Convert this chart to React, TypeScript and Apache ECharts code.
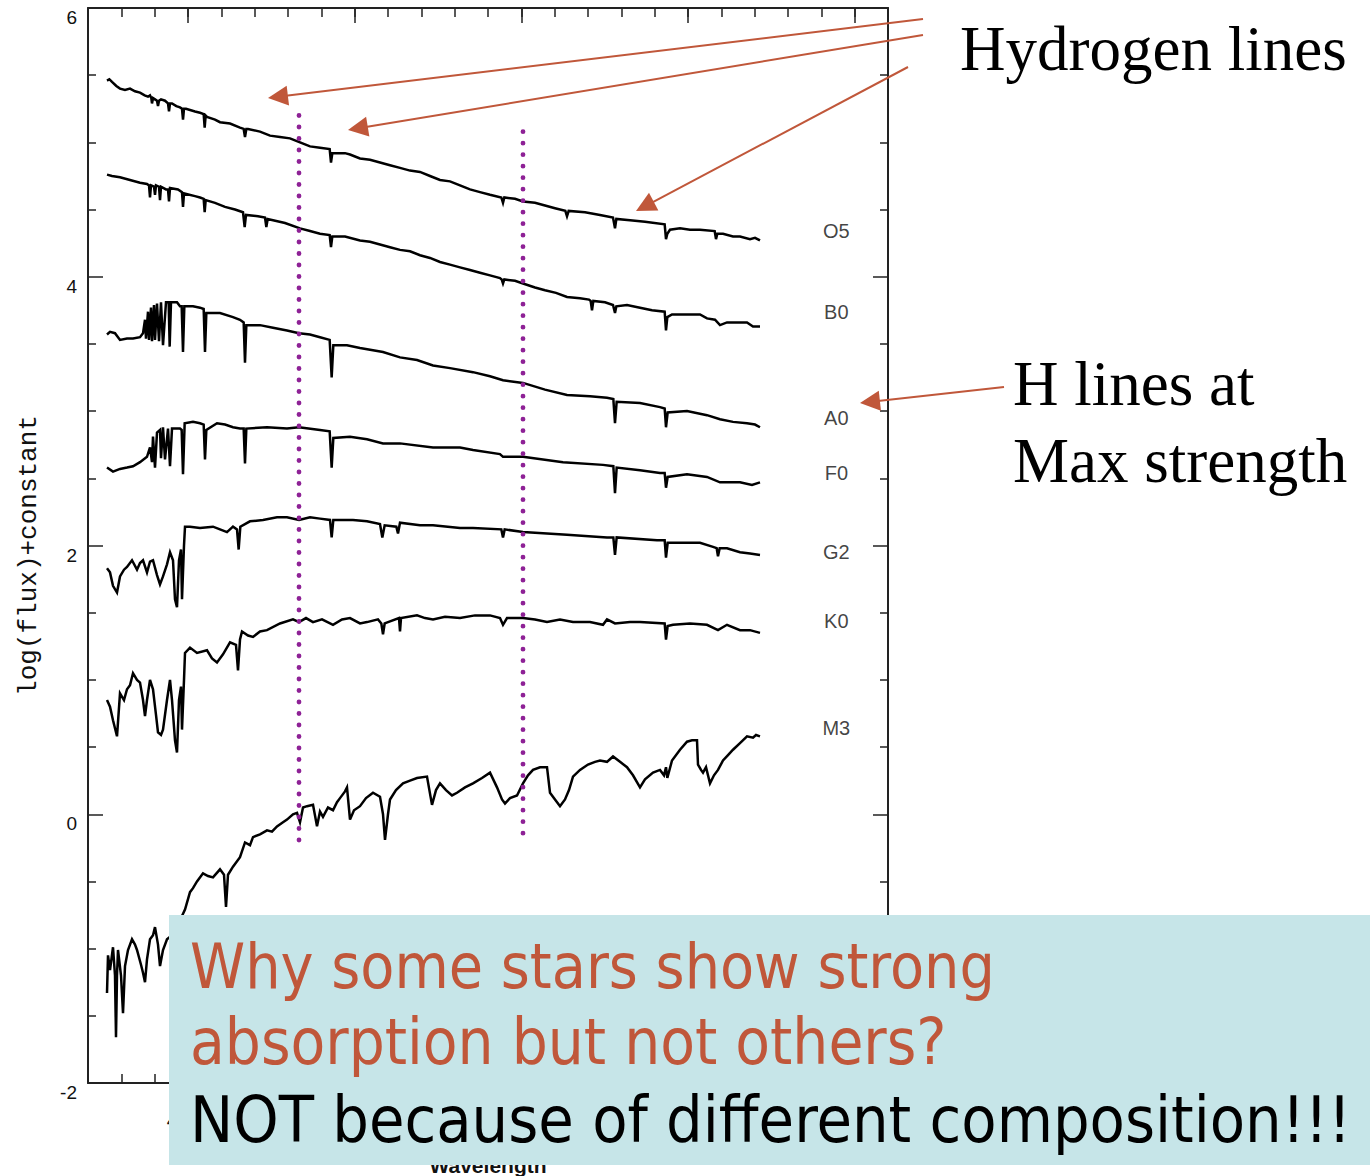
import React, { useEffect, useRef } from 'react';
import * as echarts from 'echarts';

// ---------- axes ----------
const wavelengthMin = 3400;
const wavelengthMax = 8200;
const wavelengthMinorStep = 200;
const majorWavelengthTicks = [4000, 5000, 6000, 7000, 8000];
const visibleWavelengthLabels = [4000]; // the others are hidden behind the text box
const fluxMin = -2;
const fluxMax = 6;
const fluxStep = 2;

// ---------- spectral type labels ----------
const spectralTypes = ['O5', 'B0', 'A0', 'F0', 'G2', 'K0', 'M3'];
const spectralLabelWavelength = 7890;
const spectralLabelLevel = [4.34, 3.74, 2.95, 2.54, 1.95, 1.44, 0.64];

// ---------- spectra [wavelength (Å), log(flux)+constant] ----------
const o5: [number, number][] = [[3514,5.46],[3528,5.47],[3544,5.45],[3570,5.42],[3592,5.40],[3622,5.39],[3652,5.40],[3682,5.38],[3712,5.37],[3740,5.35],[3760,5.34],[3772,5.35],[3780,5.33],[3784,5.29],[3790,5.33],[3802,5.32],[3814,5.31],[3820,5.27],[3826,5.31],[3838,5.32],[3862,5.31],[3880,5.29],[3886,5.23],[3892,5.29],[3904,5.29],[3930,5.27],[3952,5.26],[3964,5.25],[3970,5.17],[3976,5.25],[3988,5.25],[4042,5.23],[4072,5.22],[4094,5.21],[4100,5.11],[4106,5.20],[4114,5.19],[4162,5.17],[4192,5.15],[4252,5.14],[4312,5.11],[4334,5.10],[4342,5.04],[4350,5.10],[4360,5.10],[4432,5.08],[4492,5.05],[4552,5.04],[4612,5.03],[4672,5.00],[4732,4.97],[4792,4.96],[4850,4.95],[4858,4.85],[4866,4.92],[4882,4.92],[4942,4.92],[4972,4.91],[5032,4.88],[5092,4.87],[5152,4.85],[5212,4.83],[5272,4.81],[5332,4.79],[5392,4.78],[5452,4.75],[5512,4.72],[5572,4.71],[5632,4.68],[5692,4.65],[5752,4.63],[5812,4.61],[5880,4.59],[5890,4.55],[5898,4.59],[5962,4.58],[6010,4.56],[6082,4.55],[6142,4.53],[6202,4.51],[6264,4.49],[6274,4.45],[6284,4.49],[6382,4.48],[6472,4.46],[6550,4.44],[6562,4.36],[6570,4.43],[6652,4.42],[6742,4.41],[6860,4.39],[6868,4.28],[6876,4.32],[6892,4.35],[6952,4.36],[7012,4.35],[7072,4.35],[7160,4.34],[7168,4.28],[7176,4.32],[7210,4.32],[7270,4.30],[7312,4.30],[7372,4.28],[7402,4.29],[7432,4.27]];

const b0: [number, number][] = [[3514,4.76],[3544,4.75],[3592,4.74],[3652,4.72],[3712,4.70],[3754,4.69],[3766,4.68],[3772,4.59],[3778,4.68],[3796,4.67],[3802,4.61],[3808,4.68],[3826,4.67],[3832,4.57],[3838,4.67],[3868,4.65],[3880,4.65],[3886,4.56],[3892,4.66],[3940,4.65],[3964,4.63],[3970,4.52],[3976,4.62],[4042,4.60],[4072,4.59],[4094,4.58],[4100,4.48],[4106,4.57],[4162,4.55],[4222,4.52],[4282,4.50],[4330,4.48],[4340,4.37],[4348,4.46],[4420,4.45],[4462,4.44],[4470,4.37],[4478,4.43],[4582,4.40],[4672,4.36],[4732,4.34],[4792,4.32],[4850,4.31],[4858,4.22],[4866,4.30],[4942,4.30],[5032,4.27],[5092,4.26],[5152,4.24],[5212,4.22],[5272,4.20],[5332,4.19],[5392,4.16],[5452,4.14],[5512,4.11],[5572,4.09],[5632,4.07],[5692,4.05],[5752,4.03],[5812,4.01],[5872,3.99],[5882,3.98],[5890,3.95],[5898,3.98],[5962,3.97],[6010,3.95],[6082,3.92],[6142,3.90],[6208,3.88],[6274,3.85],[6352,3.84],[6406,3.83],[6416,3.82],[6424,3.75],[6432,3.82],[6502,3.81],[6550,3.79],[6562,3.73],[6570,3.78],[6634,3.79],[6712,3.77],[6784,3.75],[6860,3.74],[6868,3.60],[6876,3.70],[6904,3.72],[6982,3.72],[7072,3.72],[7114,3.69],[7162,3.68],[7192,3.64],[7234,3.66],[7270,3.66],[7312,3.66],[7354,3.66],[7390,3.63],[7432,3.63]];

const a0: [number, number][] = [[3514,3.57],[3532,3.59],[3562,3.58],[3592,3.53],[3634,3.54],[3670,3.54],[3712,3.55],[3730,3.58],[3742,3.68],[3748,3.54],[3760,3.74],[3766,3.53],[3778,3.77],[3784,3.52],[3796,3.79],[3802,3.53],[3814,3.80],[3826,3.52],[3838,3.81],[3850,3.49],[3868,3.81],[3884,3.81],[3890,3.48],[3898,3.81],[3934,3.81],[3952,3.78],[3962,3.78],[3970,3.44],[3978,3.78],[4030,3.78],[4072,3.77],[4094,3.76],[4102,3.44],[4110,3.73],[4192,3.73],[4270,3.70],[4312,3.68],[4334,3.66],[4342,3.36],[4350,3.64],[4432,3.64],[4510,3.62],[4594,3.60],[4666,3.58],[4732,3.57],[4792,3.55],[4850,3.53],[4862,3.25],[4872,3.49],[4954,3.49],[5032,3.47],[5170,3.44],[5272,3.40],[5374,3.38],[5470,3.34],[5572,3.32],[5710,3.29],[5812,3.26],[5890,3.23],[6010,3.21],[6142,3.16],[6274,3.12],[6412,3.11],[6514,3.10],[6552,3.09],[6562,2.91],[6572,3.07],[6712,3.06],[6832,3.03],[6860,3.02],[6868,2.88],[6878,2.99],[6994,3.00],[7114,2.97],[7192,2.94],[7270,2.92],[7354,2.91],[7402,2.90],[7432,2.88]];

const f0: [number, number][] = [[3514,2.58],[3550,2.55],[3592,2.57],[3634,2.58],[3670,2.59],[3712,2.62],[3754,2.66],[3772,2.73],[3784,2.62],[3790,2.81],[3802,2.58],[3814,2.84],[3832,2.86],[3838,2.65],[3850,2.88],[3862,2.64],[3880,2.87],[3892,2.59],[3904,2.87],[3934,2.87],[3952,2.87],[3962,2.86],[3970,2.53],[3980,2.91],[4030,2.92],[4072,2.91],[4094,2.90],[4102,2.64],[4110,2.86],[4174,2.91],[4222,2.90],[4270,2.88],[4312,2.87],[4334,2.87],[4342,2.61],[4350,2.87],[4474,2.88],[4594,2.87],[4666,2.88],[4792,2.86],[4850,2.85],[4862,2.58],[4872,2.80],[4972,2.81],[5074,2.79],[5170,2.76],[5272,2.76],[5470,2.73],[5632,2.73],[5710,2.71],[5872,2.68],[5890,2.66],[6010,2.66],[6250,2.62],[6490,2.60],[6552,2.59],[6562,2.39],[6572,2.58],[6712,2.56],[6832,2.54],[6860,2.54],[6868,2.43],[6878,2.51],[6994,2.53],[7114,2.51],[7192,2.47],[7252,2.47],[7312,2.47],[7384,2.45],[7432,2.47]];

const g2: [number, number][] = [[3514,1.83],[3532,1.80],[3550,1.70],[3574,1.65],[3592,1.77],[3616,1.82],[3634,1.84],[3664,1.89],[3694,1.82],[3712,1.87],[3730,1.89],[3754,1.80],[3772,1.88],[3790,1.89],[3814,1.78],[3832,1.71],[3850,1.77],[3874,1.86],[3892,1.95],[3910,1.89],[3922,1.60],[3934,1.54],[3946,1.89],[3958,1.97],[3964,1.60],[3976,2.00],[3982,2.14],[4012,2.14],[4072,2.13],[4150,2.14],[4192,2.12],[4234,2.10],[4270,2.14],[4294,2.12],[4304,1.97],[4314,2.14],[4372,2.18],[4450,2.19],[4534,2.21],[4594,2.21],[4666,2.19],[4732,2.21],[4792,2.20],[4852,2.19],[4862,2.06],[4872,2.19],[4990,2.19],[5074,2.18],[5152,2.16],[5166,2.06],[5180,2.15],[5250,2.14],[5260,2.09],[5272,2.17],[5392,2.15],[5470,2.15],[5632,2.13],[5710,2.13],[5880,2.12],[5890,2.06],[5900,2.12],[6010,2.10],[6274,2.08],[6514,2.06],[6552,2.06],[6562,1.93],[6572,2.06],[6814,2.04],[6860,2.04],[6868,1.91],[6878,2.02],[7072,2.02],[7150,1.99],[7172,1.98],[7180,1.92],[7190,1.98],[7234,1.98],[7312,1.95],[7372,1.94],[7432,1.93]];

const k0: [number, number][] = [[3514,0.85],[3532,0.80],[3550,0.70],[3574,0.58],[3592,0.90],[3616,0.85],[3634,0.93],[3652,0.96],[3670,1.05],[3694,1.00],[3712,0.98],[3730,0.85],[3742,0.73],[3754,0.85],[3772,1.00],[3790,0.93],[3808,0.74],[3820,0.61],[3838,0.59],[3850,0.63],[3874,0.85],[3892,1.00],[3904,0.85],[3922,0.55],[3934,0.46],[3946,0.85],[3958,0.95],[3964,0.63],[3976,1.00],[3982,1.20],[4012,1.24],[4054,1.20],[4114,1.22],[4144,1.16],[4174,1.13],[4210,1.19],[4252,1.28],[4288,1.26],[4300,1.07],[4312,1.30],[4324,1.36],[4360,1.33],[4390,1.32],[4432,1.36],[4474,1.37],[4552,1.42],[4630,1.45],[4666,1.43],[4708,1.46],[4750,1.43],[4804,1.45],[4870,1.41],[4924,1.45],[4972,1.46],[5032,1.42],[5074,1.43],[5140,1.45],[5160,1.42],[5170,1.34],[5180,1.42],[5200,1.43],[5266,1.46],[5272,1.36],[5278,1.46],[5374,1.48],[5422,1.46],[5470,1.45],[5542,1.47],[5632,1.46],[5722,1.48],[5812,1.48],[5872,1.46],[5890,1.41],[5914,1.46],[6010,1.46],[6082,1.45],[6154,1.43],[6232,1.45],[6310,1.43],[6412,1.43],[6490,1.41],[6514,1.45],[6562,1.42],[6652,1.43],[6712,1.43],[6860,1.42],[6868,1.30],[6878,1.40],[6910,1.41],[7012,1.42],[7114,1.41],[7180,1.37],[7234,1.41],[7312,1.37],[7372,1.37],[7432,1.35]];

const m3: [number, number][] = [[3514,-1.33],[3520,-1.05],[3532,-1.16],[3550,-0.99],[3562,-1.20],[3568,-1.66],[3574,-1.20],[3580,-1.01],[3598,-1.20],[3610,-1.48],[3622,-1.13],[3640,-1.01],[3664,-0.93],[3682,-0.97],[3694,-1.01],[3718,-1.12],[3730,-1.18],[3742,-1.25],[3754,-1.08],[3772,-0.93],[3790,-0.90],[3802,-0.84],[3820,-0.97],[3832,-1.13],[3850,-1.01],[3874,-0.93],[3904,-0.90],[3940,-0.82],[3982,-0.71],[4012,-0.58],[4030,-0.55],[4054,-0.50],[4090,-0.44],[4120,-0.46],[4150,-0.47],[4192,-0.41],[4216,-0.45],[4228,-0.69],[4240,-0.45],[4270,-0.39],[4312,-0.32],[4342,-0.21],[4372,-0.23],[4390,-0.17],[4432,-0.15],[4474,-0.12],[4504,-0.13],[4534,-0.09],[4570,-0.06],[4594,-0.04],[4630,0.00],[4654,0.01],[4672,-0.06],[4690,0.05],[4714,0.06],[4750,0.07],[4774,-0.09],[4792,0.02],[4810,-0.02],[4840,0.05],[4870,0.03],[4894,0.09],[4912,0.12],[4942,0.17],[4954,0.20],[4972,-0.04],[4996,0.03],[5032,0.06],[5068,0.12],[5110,0.16],[5152,0.13],[5170,0.00],[5182,-0.19],[5200,0.00],[5212,0.11],[5248,0.18],[5290,0.23],[5332,0.25],[5374,0.27],[5434,0.28],[5464,0.07],[5488,0.18],[5512,0.23],[5548,0.18],[5584,0.14],[5614,0.16],[5662,0.20],[5710,0.23],[5764,0.27],[5812,0.31],[5854,0.20],[5884,0.11],[5902,0.08],[5932,0.12],[5974,0.14],[6010,0.23],[6040,0.29],[6070,0.33],[6112,0.35],[6154,0.35],[6172,0.16],[6202,0.11],[6232,0.06],[6262,0.11],[6286,0.18],[6310,0.28],[6352,0.33],[6400,0.37],[6442,0.39],[6472,0.40],[6514,0.39],[6550,0.43],[6592,0.39],[6634,0.35],[6670,0.29],[6712,0.20],[6742,0.26],[6790,0.31],[6832,0.33],[6856,0.29],[6868,0.35],[6876,0.27],[6904,0.40],[6952,0.48],[6994,0.54],[7024,0.55],[7054,0.55],[7060,0.37],[7078,0.33],[7090,0.31],[7108,0.35],[7132,0.23],[7156,0.29],[7180,0.33],[7210,0.40],[7240,0.44],[7270,0.48],[7312,0.53],[7354,0.58],[7390,0.57],[7408,0.59],[7432,0.58]];

// ---------- dotted marker lines ----------
const markerWavelengths = [4666, 6010];
const markerTop = [5.2, 5.08];
const markerBottom = [-0.2, -0.15];

// ---------- annotation texts ----------
const calloutTop = 'Hydrogen lines';
const calloutMid = ['H lines at', 'Max strength'];
const questionLines = ['Why some stars show strong', 'absorption but not others?'];
const answerLine = 'NOT because of different composition!!!';

const ORANGE = '#c0573a';
const AXIS = '#222';
const BOX_FONT = '"DejaVu Sans Condensed", "DejaVu Sans", sans-serif';

function arrow(x1: number, y1: number, x2: number, y2: number) {
  const dx = x2 - x1;
  const dy = y2 - y1;
  const L = Math.hypot(dx, dy);
  const ux = dx / L;
  const uy = dy / L;
  const hl = 20;
  const hw = 10;
  const bx = x2 - ux * hl;
  const by = y2 - uy * hl;
  return [
    { type: 'line', z: 40, shape: { x1, y1, x2: bx + ux * 2, y2: by + uy * 2 }, style: { stroke: ORANGE, lineWidth: 2 } },
    {
      type: 'polygon', z: 40,
      shape: { points: [[x2, y2], [bx - uy * hw, by + ux * hw], [bx + uy * hw, by - ux * hw]] },
      style: { fill: ORANGE },
    },
  ];
}

export default function App() {
  const ref = useRef<HTMLDivElement>(null);

  useEffect(() => {
    if (!ref.current) return;
    const chart = echarts.init(ref.current, undefined, { renderer: 'svg' });

    const xBase = {
      type: 'value',
      min: wavelengthMin,
      max: wavelengthMax,
      splitLine: { show: false },
    };
    const minorX = (position: string, labels: boolean) => ({
      ...xBase,
      position,
      interval: wavelengthMinorStep,
      axisLine: { show: true, onZero: false, lineStyle: { color: AXIS, width: 2 } },
      axisTick: { show: true, inside: true, length: 9, lineStyle: { color: AXIS, width: 1.5 } },
      axisLabel: labels
        ? {
            show: true,
            margin: 28,
            formatter: (v: number) => (visibleWavelengthLabels.indexOf(v) >= 0 ? String(v) : ''),
            color: '#111',
            fontSize: 19,
            fontFamily: 'Liberation Sans',
          }
        : { show: false },
      ...(labels
        ? {
            name: 'Wavelength',
            nameLocation: 'middle',
            nameGap: 72,
            nameTextStyle: { fontSize: 21, fontWeight: 'bold', color: '#111', fontFamily: 'Liberation Sans' },
          }
        : {}),
    });
    const majorX = (position: string) => ({
      ...xBase,
      position,
      axisLine: { show: false, onZero: false },
      axisTick: { show: true, inside: true, length: 15, customValues: majorWavelengthTicks, lineStyle: { color: AXIS, width: 1.5 } },
      axisLabel: { show: false },
    });
    const yAx = (position: string, labels: boolean) => ({
      type: 'value',
      position,
      min: fluxMin,
      max: fluxMax,
      interval: fluxStep,
      splitLine: { show: false },
      axisLine: { show: true, onZero: false, lineStyle: { color: AXIS, width: 2 } },
      axisTick: { show: true, inside: true, length: 15, lineStyle: { color: AXIS, width: 1.5 } },
      minorTick: { show: true, splitNumber: 4, length: 8, lineStyle: { color: AXIS, width: 1.5 } },
      minorSplitLine: { show: false },
      axisLabel: labels
        ? { show: true, margin: 11, verticalAlign: 'top', color: '#111', fontSize: 19, fontFamily: 'Liberation Sans' }
        : { show: false },
      ...(labels
        ? {
            name: 'log(flux)+constant',
            nameLocation: 'middle',
            nameRotate: 90,
            nameGap: 46,
            nameTextStyle: { fontSize: 26, color: '#111', fontFamily: 'Liberation Mono', padding: [0, 20, 0, 0] },
          }
        : {}),
    });

    const spectra = [o5, b0, a0, f0, g2, k0, m3];

    const graphic: any[] = [
      ...arrow(923, 19, 268, 98),
      ...arrow(923, 35, 348, 130),
      ...arrow(908, 67, 636, 211),
      ...arrow(1004, 387, 860, 403),
      {
        type: 'text', z: 40, x: 960, y: 49,
        style: { text: calloutTop, fill: '#000', fontSize: 63, fontFamily: 'Liberation Serif', align: 'left', verticalAlign: 'middle' },
      },
      {
        type: 'text', z: 40, x: 1013, y: 384,
        style: { text: calloutMid[0], fill: '#000', fontSize: 63, fontFamily: 'Liberation Serif', align: 'left', verticalAlign: 'middle' },
      },
      {
        type: 'text', z: 40, x: 1013, y: 461,
        style: { text: calloutMid[1], fill: '#000', fontSize: 63, fontFamily: 'Liberation Serif', align: 'left', verticalAlign: 'middle' },
      },
      {
        type: 'rect', z: 50,
        shape: { x: 169, y: 915, width: 1201, height: 250 },
        style: { fill: '#c6e5e8' },
      },
      {
        type: 'text', z: 51, x: 190, y: 966,
        style: { text: questionLines[0], fill: ORANGE, fontSize: 62, fontFamily: BOX_FONT, align: 'left', verticalAlign: 'middle' },
      },
      {
        type: 'text', z: 51, x: 190, y: 1042,
        style: { text: questionLines[1], fill: ORANGE, fontSize: 63.2, fontFamily: BOX_FONT, align: 'left', verticalAlign: 'middle' },
      },
      {
        type: 'text', z: 51, x: 190, y: 1119,
        style: { text: answerLine, fill: '#000', fontSize: 64.2, fontFamily: BOX_FONT, align: 'left', verticalAlign: 'middle' },
      },
    ];

    chart.setOption({
      animation: false,
      backgroundColor: '#fff',
      textStyle: { fontFamily: 'Liberation Sans' },
      grid: { left: 88, top: 8, width: 800, height: 1075, containLabel: false, outerBoundsMode: 'none' },
      xAxis: [minorX('bottom', true), majorX('bottom'), minorX('top', false), majorX('top')],
      yAxis: [yAx('left', true), yAx('right', false)],
      series: [
        ...spectra.map((d, i) => ({
          type: 'line',
          name: spectralTypes[i],
          data: d,
          symbol: 'none',
          showSymbol: false,
          silent: true,
          z: 2,
          lineStyle: { color: '#000', width: 2.5, join: 'miter' },
        })),
        ...markerWavelengths.map((w, i) => ({
          type: 'line',
          name: 'marker' + i,
          data: [[w, markerTop[i]], [w, markerBottom[i]]],
          symbol: 'none',
          silent: true,
          z: 3,
          lineStyle: { color: '#8e2196', width: 4.8, type: [0, 11.5], cap: 'round' },
        })),
        {
          type: 'scatter',
          name: 'types',
          data: spectralTypes.map((t, i) => ({ name: t, value: [spectralLabelWavelength, spectralLabelLevel[i]] })),
          symbolSize: 1,
          silent: true,
          itemStyle: { color: 'rgba(0,0,0,0)' },
          label: { show: true, position: 'inside', formatter: '{b}', color: '#111', fontSize: 20, fontFamily: 'Liberation Sans' },
          z: 4,
        },
      ],
      graphic,
    });

    return () => chart.dispose();
  }, []);

  return (
    <div
      ref={ref}
      style={{ position: 'absolute', left: 0, top: 0, width: 1370, height: 1176, background: '#fff' }}
    />
  );
}
